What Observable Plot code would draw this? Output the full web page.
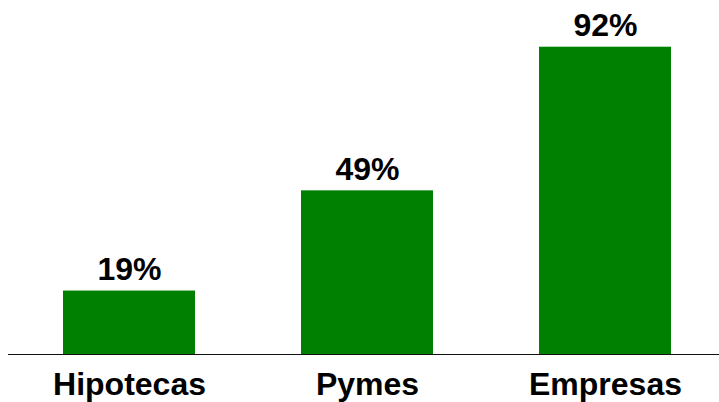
<!DOCTYPE html>
<html>
<head>
<meta charset="utf-8">
<script src="https://cdn.jsdelivr.net/npm/d3@7"></script>
<script src="https://cdn.jsdelivr.net/npm/@observablehq/plot@0.6"></script>
<style>
  html, body { margin: 0; padding: 0; background: #fff; }
  svg { font-family: "Liberation Sans", Arial, sans-serif; }
</style>
</head>
<body>
<div id="chart"></div>
<script>
const categories = ["Hipotecas", "Pymes", "Empresas"];
const values = [19, 49, 92];
const valueLabels = ["19%", "49%", "92%"];

const data = categories.map((c, i) => ({category: c, value: values[i], label: valueLabels[i]}));

const chart = Plot.plot({
  width: 719,
  height: 402,
  marginLeft: 8,
  marginRight: 0,
  marginTop: 20,
  marginBottom: 48,
  style: {fontFamily: "'Liberation Sans', Arial, sans-serif", background: "#fff"},
  x: {domain: categories, paddingInner: 0.4465, paddingOuter: 0.214, align: 0.53, label: null},
  y: {domain: [0, 100], axis: null},
  marks: [
    Plot.barY(data, {x: "category", y: "value", fill: "#008000"}),
    Plot.ruleY([0], {stroke: "#111", strokeWidth: 1.2}),
    Plot.text(data, {x: "category", y: "value", text: "label", lineAnchor: "bottom", dy: -11, fontSize: 32, fontWeight: "bold", fill: "#000"}),
    Plot.axisX({tickSize: 0, tickPadding: 18, fontSize: 32, fontWeight: "bold", fill: "#000", label: null})
  ]
});
document.getElementById("chart").appendChild(chart);
</script>
</body>
</html>
